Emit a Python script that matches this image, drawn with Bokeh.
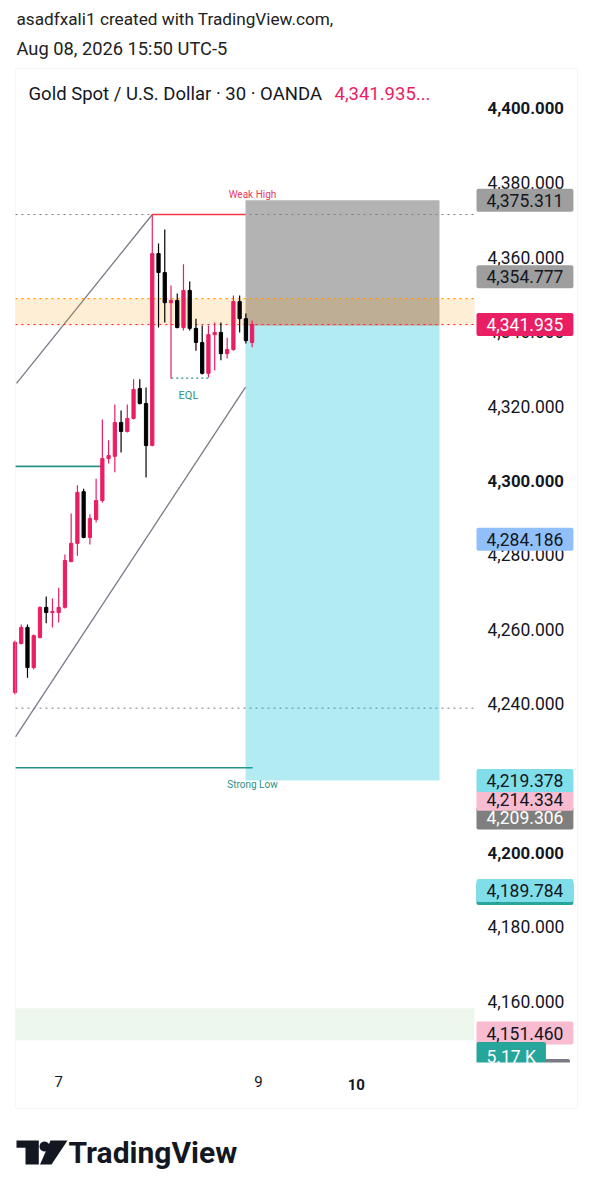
import math
from bokeh.plotting import figure
from bokeh.models import (Range1d, LinearAxis, FixedTicker, NumeralTickFormatter, Label,
                          BoxAnnotation, PolyAnnotation, ColumnDataSource)
from bokeh.embed import file_html
from bokeh.resources import INLINE

# ---------------- data ----------------
candle_open = [4243.0, 4256.2, 4260.5, 4249.7, 4257.8, 4265.9, 4264.5, 4264.5, 4265.9, 4278.2,
               4283.1, 4297.0, 4284.7, 4289.5, 4294.6, 4305.9, 4306.5, 4315.6, 4313.2, 4316.7,
               4324.7, 4320.7, 4309.4, 4361.0, 4355.9, 4347.8, 4348.4, 4341.1, 4351.1, 4340.9,
               4337.1, 4328.8, 4339.2, 4339.8, 4334.1, 4335.2, 4348.1, 4343.5, 4337.1]
candle_high = [4257.0, 4261.3, 4261.3, 4258.6, 4266.1, 4268.8, 4268.3, 4271.2, 4280.1, 4291.1,
               4298.7, 4297.8, 4290.9, 4300.5, 4316.4, 4310.8, 4320.4, 4318.8, 4320.4, 4327.2,
               4327.2, 4325.0, 4371.5, 4363.7, 4367.5, 4352.4, 4350.3, 4358.1, 4353.5, 4343.5,
               4341.7, 4341.7, 4342.5, 4342.5, 4338.4, 4349.7, 4349.7, 4344.9, 4343.0]
candle_low = [4242.5, 4255.9, 4247.0, 4249.2, 4257.5, 4261.6, 4260.5, 4261.8, 4265.6, 4278.0,
              4279.8, 4284.5, 4282.8, 4288.7, 4294.1, 4304.6, 4302.2, 4307.5, 4312.9, 4316.4,
              4320.4, 4300.8, 4309.2, 4341.1, 4342.5, 4327.4, 4340.9, 4340.3, 4340.3, 4334.9,
              4328.5, 4327.7, 4329.6, 4332.3, 4332.8, 4334.9, 4339.8, 4336.8, 4335.8]
candle_close = [4256.5, 4260.5, 4249.7, 4258.3, 4265.9, 4264.5, 4264.8, 4265.9, 4278.5, 4283.1,
                4296.8, 4284.7, 4289.8, 4294.6, 4305.9, 4306.7, 4315.6, 4313.2, 4316.7, 4324.5,
                4320.7, 4309.4, 4361.0, 4355.9, 4347.8, 4348.4, 4341.1, 4351.1, 4340.9, 4337.1,
                4328.8, 4339.2, 4339.8, 4334.1, 4335.2, 4348.1, 4343.5, 4337.6, 4341.935]

price_ticks = [4160, 4180, 4200, 4220, 4240, 4260, 4280, 4300, 4320, 4340, 4360, 4380, 4400]
bold_price_ticks = [4200, 4300, 4400]
day_tick_index = [7, 39, 55]
day_tick_labels = ["7", "9", "10"]
bold_day_labels = ["10"]

last_price = 4341.935
weak_high = 4371.5
weak_high_index = [22, 36.94]
strong_low = 4222.8
strong_low_index = [0.08, 38.1]
teal_level = 4303.8
teal_level_index = [0.08, 13.97]
eql_level = 4327.5
eql_index = [25.03, 30.96]
dotted_levels = [4371.5, 4238.8]
supply_zone = [4341.6, 4348.9]
demand_zone = [4149.5, 4158.1]
position_index = [36.94, 68.03]
position_stop = 4375.311
position_entry = 4341.6
position_target = 4219.378
channel_upper_x = [0.24, 22]
channel_upper_y = [4326.1, 4371.5]
channel_lower_x = [0.08, 36.94]
channel_lower_y = [4231.1, 4325.1]

tag_values = [4151.460, 4189.0, 4189.784, 4209.306, 4214.334, 4219.378, 4284.186, 4354.777, 4375.311, 4341.935]
tag_fills = ["#f8bbd0", "#26a69a", "#80deea", "#7f7f7f", "#f8bbd0", "#80deea", "#90bff9", "#9e9e9e", "#9e9e9e", "#e91e63"]
tag_text_colors = ["#131722", "#131722", "#131722", "#ffffff", "#131722", "#131722", "#131722", "#131722", "#131722", "#ffffff"]
volume_value = 4145.0
volume_text = "5.17 K"

# ---------------- figure ----------------
FONT = "Roboto"
TXT = "#131722"
UP = "#e91e63"
DOWN = "#000000"
TEAL = "#2a9285"
AX_SIZE = "17.5px"
TAG_PAD = (10, 5)

# price pane spans bar index 0.08 .. 73.64 and price 4143.55 .. 4410.75
PANE_X = (0.08, 73.64)
PANE_Y = (4143.55, 4410.75)

p = figure(width=592, height=1200, output_backend="svg", toolbar_location=None,
           x_range=Range1d(-2.324, 92.548), y_range=Range1d(4106.452, 4429.032),
           min_border=0, x_axis_location=None, y_axis_location=None)
p.outline_line_color = None
p.background_fill_color = "#ffffff"
p.border_fill_color = "#ffffff"
p.grid.visible = False

yax = LinearAxis(ticker=FixedTicker(ticks=price_ticks), fixed_location=PANE_X[1],
                 formatter=NumeralTickFormatter(format="0,0.000"),
                 major_label_overrides={t: "" for t in bold_price_ticks})
yax.axis_line_color = None
yax.major_tick_line_color = None
yax.minor_tick_line_color = None
yax.major_tick_out = 0
yax.major_tick_in = 0
yax.minor_tick_out = 0
yax.major_label_text_font = FONT
yax.major_label_text_font_size = AX_SIZE
yax.major_label_text_color = TXT
yax.major_label_standoff = 13
p.add_layout(yax, "right")

xax = LinearAxis(ticker=FixedTicker(ticks=day_tick_index), fixed_location=PANE_Y[0],
                 major_label_overrides={t: ("" if l in bold_day_labels else l)
                                        for t, l in zip(day_tick_index, day_tick_labels)})
xax.axis_line_color = None
xax.major_tick_line_color = None
xax.minor_tick_line_color = None
xax.major_tick_out = 0
xax.major_tick_in = 0
xax.minor_tick_out = 0
xax.major_label_text_font = FONT
xax.major_label_text_font_size = "15px"
xax.major_label_text_color = TXT
xax.major_label_standoff = 14
p.add_layout(xax, "below")

# full-width dotted levels (under everything)
for lv in dotted_levels:
    p.line(list(PANE_X), [lv, lv], line_color="#787b86", line_dash="2 4", line_width=1,
           level="underlay")

# channel lines
p.line(channel_upper_x, channel_upper_y, line_color="#787b86", line_width=1.3)
p.line(channel_lower_x, channel_lower_y, line_color="#787b86", line_width=1.3)

# horizontal structure lines
p.line(teal_level_index, [teal_level, teal_level], line_color=TEAL, line_width=1.6)
p.line(strong_low_index, [strong_low, strong_low], line_color=TEAL, line_width=1.4)
p.line(weak_high_index, [weak_high, weak_high], line_color="#f23645", line_width=1.3)
p.line(eql_index, [eql_level, eql_level], line_color=TEAL, line_width=1.3, line_dash="2 3")

# position tool
p.quad(left=[position_index[0]], right=[position_index[1]], bottom=[position_entry], top=[position_stop],
       fill_color="#808080", fill_alpha=0.6, line_color=None)
p.quad(left=[position_index[0]], right=[position_index[1]], bottom=[position_target], top=[position_entry],
       fill_color="#00bcd4", fill_alpha=0.3, line_color=None)

# zones
p.quad(left=[PANE_X[0]], right=[PANE_X[1]], bottom=[supply_zone[0]], top=[supply_zone[1]],
       fill_color="#ff9800", fill_alpha=0.16, line_color=None)
p.quad(left=[PANE_X[0]], right=[PANE_X[1]], bottom=[demand_zone[0]], top=[demand_zone[1]],
       fill_color="#4caf50", fill_alpha=0.1, line_color=None)
p.line(list(PANE_X), [supply_zone[1]] * 2, line_color="#ff9800", line_dash="2 4", line_width=1.2)
p.line(list(PANE_X), [last_price] * 2, line_color="#e91e63", line_dash="2 4", line_width=1.2)

# candles
n = len(candle_open)
src = ColumnDataSource(dict(
    x=list(range(n)),
    high=candle_high, low=candle_low,
    top=[max(o, c) for o, c in zip(candle_open, candle_close)],
    bottom=[min(o, c) for o, c in zip(candle_open, candle_close)],
    color=[UP if c >= o else DOWN for o, c in zip(candle_open, candle_close)],
))
p.segment(x0="x", y0="high", x1="x", y1="low", line_color="color", line_width=1.2, source=src)
p.vbar(x="x", width=0.52, top="top", bottom="bottom", fill_color="color", line_color="color",
       line_width=1, source=src)

# drawing texts
p.add_layout(Label(x=38.06, y=4376.9, text="Weak High", text_font=FONT, text_font_size="10px",
                   text_color="#e0405d", text_align="center", text_baseline="middle"))
p.add_layout(Label(x=38.06, y=4218.3, text="Strong Low", text_font=FONT, text_font_size="10px",
                   text_color=TEAL, text_align="center", text_baseline="middle"))
p.add_layout(Label(x=27.8, y=4322.8, text="EQL", text_font=FONT, text_font_size="11px",
                   text_color=TEAL, text_align="center", text_baseline="middle"))

# bold tick labels
for t in bold_price_ticks:
    p.add_layout(Label(x=487, x_units="canvas", y=t, text=f"{t:,.3f}", text_font=FONT,
                       text_font_size="16.8px", text_font_style="bold", text_color=TXT,
                       text_baseline="middle"))
for t, l in zip(day_tick_index, day_tick_labels):
    if l in bold_day_labels:
        p.add_layout(Label(x=54.7, y=1084, y_units="canvas", text=l, text_font=FONT,
                           text_font_size="15px", text_font_style="bold", text_color=TXT,
                           text_align="center", text_baseline="middle"))

# price tags
for v, f, c in zip(tag_values, tag_fills, tag_text_colors):
    p.add_layout(Label(x=476, x_units="canvas", y=v, text=f"{v:,.3f}", text_font=FONT,
                       text_font_size=AX_SIZE, text_color=c, text_baseline="middle",
                       background_fill_color=f, padding=TAG_PAD, border_radius=2))
p.add_layout(Label(x=520, x_units="canvas", y=1070, y_units="canvas", text="950",
                   text_font=FONT, text_font_size=AX_SIZE, text_color="#ffffff",
                   text_baseline="middle", background_fill_color="#787b86",
                   padding=TAG_PAD, border_radius=2))
p.add_layout(Label(x=476, x_units="canvas", y=volume_value, text=volume_text,
                   text_font=FONT, text_font_size=AX_SIZE, text_color="#ffffff",
                   text_baseline="middle", background_fill_color="#26a69a",
                   padding=TAG_PAD, border_radius=2))
p.add_layout(BoxAnnotation(left=474, right=576, top=1062, bottom=1090, left_units="canvas",
                           right_units="canvas", top_units="canvas", bottom_units="canvas",
                           fill_color="#ffffff", fill_alpha=1, line_color=None))

# chart border
p.add_layout(BoxAnnotation(left=15, right=577, top=68, bottom=1108, left_units="canvas",
                           right_units="canvas", top_units="canvas", bottom_units="canvas",
                           fill_alpha=0, line_color="#e0e3eb", line_width=1))

# header / legend
p.add_layout(Label(x=16, y=18, x_units="canvas", y_units="canvas",
                   text="asadfxali1 created with TradingView.com,", text_font=FONT,
                   text_font_size="17.2px", text_color="#222222", text_baseline="middle"))
p.add_layout(Label(x=16, y=48, x_units="canvas", y_units="canvas",
                   text="Aug 08, 2026 15:50 UTC-5", text_font=FONT,
                   text_font_size="18.3px", text_color="#222222", text_baseline="middle"))
p.add_layout(Label(x=28, y=93, x_units="canvas", y_units="canvas",
                   text="Gold Spot / U.S. Dollar · 30 · OANDA", text_font=FONT,
                   text_font_size="18.5px", text_color=TXT, text_baseline="middle"))
p.add_layout(Label(x=334, y=93, x_units="canvas", y_units="canvas",
                   text=f"{last_price:,.3f}...", text_font=FONT,
                   text_font_size="18.5px", text_color="#e91e63", text_baseline="middle"))

# TradingView logo
LOGO = "#131722"
p.add_layout(PolyAnnotation(xs=[16, 38.3, 38.3, 25, 25, 16], ys=[1140, 1140, 1164, 1164, 1147.3, 1147.3],
                            xs_units="canvas", ys_units="canvas", fill_color=LOGO, fill_alpha=1,
                            line_color=None))
p.add_layout(PolyAnnotation(xs=[50, 67, 51, 39.5], ys=[1140, 1140, 1164, 1164],
                            xs_units="canvas", ys_units="canvas", fill_color=LOGO, fill_alpha=1,
                            line_color=None))
p.add_layout(PolyAnnotation(xs=[44 + 5 * math.cos(a * math.pi / 10) for a in range(20)],
                            ys=[1146 + 5 * math.sin(a * math.pi / 10) for a in range(20)],
                            xs_units="canvas", ys_units="canvas", fill_color=LOGO, fill_alpha=1,
                            line_color=None))
p.add_layout(Label(x=68, y=1152, x_units="canvas", y_units="canvas", text="TradingView",
                   text_font=FONT, text_font_size="30px", text_font_style="bold",
                   text_color=LOGO, text_baseline="middle"))

open("out.html", "w").write(file_html(p, INLINE))
